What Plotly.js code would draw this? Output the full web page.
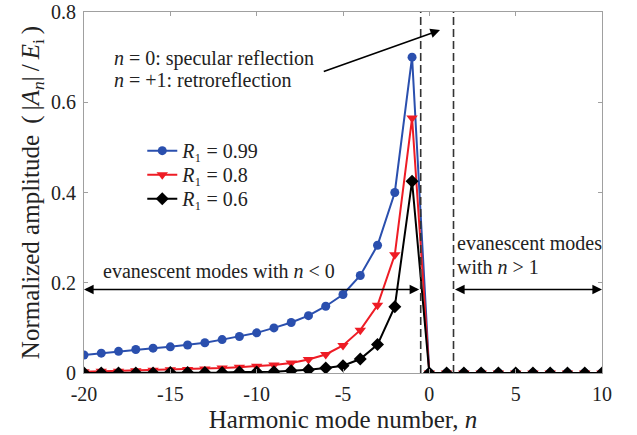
<!DOCTYPE html>
<html><head><meta charset="utf-8">
<script src="https://cdn.plot.ly/plotly-3.0.1.min.js"></script>
<style>html,body{margin:0;padding:0;background:#fff}#chart{width:637px;height:435px}</style>
</head><body><div id="chart"></div>
<script>
const modeNumbers = [-20,-19,-18,-17,-16,-15,-14,-13,-12,-11,-10,-9,-8,-7,-6,-5,-4,-3,-2,-1,0,1,2,3,4,5,6,7,8,9,10];
const ampR099 = [0.040,0.044,0.048,0.052,0.055,0.058,0.062,0.067,0.074,0.081,0.089,0.100,0.112,0.127,0.148,0.174,0.216,0.283,0.400,0.700,0,0,0,0,0,0,0,0,0,0,0];
const ampR08  = [0.003,0.004,0.004,0.005,0.006,0.007,0.008,0.009,0.011,0.013,0.015,0.018,0.022,0.030,0.041,0.061,0.095,0.150,0.262,0.565,0,0,0,0,0,0,0,0,0,0,0];
const ampR06  = [0.000,0.000,0.000,0.000,0.000,0.001,0.001,0.001,0.001,0.002,0.002,0.003,0.005,0.007,0.011,0.016,0.031,0.063,0.147,0.425,0,0,0,0,0,0,0,0,0,0,0];
const seriesNames = ['<i>R</i>\u2081 = 0.99','<i>R</i>\u2081 = 0.8','<i>R</i>\u2081 = 0.6'];
const xTicks = [-20,-15,-10,-5,0,5,10];
const yTicks = [0,0.2,0.4,0.6,0.8];
const dividers = [-0.5, 1.4];

const F = 'Liberation Serif, Times New Roman, serif';
const TXT = '#222';
const traces = [
  {x: modeNumbers, y: ampR099, name: seriesNames[0], mode: 'lines+markers', legend: 'legend',
   line: {color: '#2a4fae', width: 2}, marker: {symbol: 'circle', size: 9, color: '#2a4fae'}},
  {x: modeNumbers, y: ampR08, name: seriesNames[1], mode: 'lines+markers', legend: 'legend2',
   line: {color: '#ee1c25', width: 2}, marker: {symbol: 'triangle-down', size: 10, color: '#ee1c25'}},
  {x: modeNumbers, y: ampR06, name: seriesNames[2], mode: 'lines+markers', legend: 'legend3',
   line: {color: '#000000', width: 2}, marker: {symbol: 'diamond', size: 10, color: '#000000'}}
];

const shapes = dividers.map(d => ({type: 'line', xref: 'x', yref: 'paper', x0: d, x1: d, y0: 0, y1: 1,
  line: {color: '#333', width: 1.6, dash: '8px,4px'}}));

const arrowCommon = {showarrow: true, text: '', axref: 'x', ayref: 'y', xref: 'x', yref: 'y',
  arrowhead: 2, arrowsize: 1.2, arrowwidth: 1.6, arrowcolor: '#000'};

const annotations = [
  Object.assign({}, arrowCommon, {x: -20, y: 0.185, ax: -0.5, ay: 0.185, arrowside: 'end+start'}),
  Object.assign({}, arrowCommon, {x: 10, y: 0.185, ax: 1.4, ay: 0.185, arrowside: 'end+start'}),
  Object.assign({}, arrowCommon, {x: 0.62, y: 0.76, ax: -6.2, ay: 0.667}),
  {xref: 'x', yref: 'y', x: -18.4, y: 0.696, xanchor: 'left', yanchor: 'middle', showarrow: false,
   text: '<i>n</i> = 0: specular reflection', font: {family: F, size: 20, color: TXT}},
  {xref: 'x', yref: 'y', x: -18.4, y: 0.650, xanchor: 'left', yanchor: 'middle', showarrow: false,
   text: '<i>n</i> = +1: retroreflection', font: {family: F, size: 20, color: TXT}},
  {xref: 'x', yref: 'y', x: -12.2, y: 0.226, xanchor: 'center', yanchor: 'middle', showarrow: false,
   text: 'evanescent modes with <i>n</i> &lt; 0', font: {family: F, size: 20, color: TXT}},
  {xref: 'x', yref: 'y', x: 1.5, y: 0.288, xanchor: 'left', yanchor: 'middle', showarrow: false,
   text: 'evanescent modes', font: {family: F, size: 20, color: TXT}},
  {xref: 'x', yref: 'y', x: 1.5, y: 0.235, xanchor: 'left', yanchor: 'middle', showarrow: false,
   text: 'with <i>n</i> &gt; 1', font: {family: F, size: 20, color: TXT}}
];

const axisCommon = {showline: true, mirror: 'ticks', linecolor: '#a0a0a0', linewidth: 1,
  ticks: 'inside', ticklen: 4, tickcolor: '#a0a0a0', showgrid: false, zeroline: false,
  tickfont: {family: F, size: 20, color: TXT}, ticklabelstandoff: 3};

const legendCommon = {x: 0.1125, xanchor: 'left', yanchor: 'top', bgcolor: 'rgba(0,0,0,0)',
  font: {family: F, size: 20, color: TXT}};

const layout = {
  width: 637, height: 435,
  margin: {l: 84, r: 35, t: 12, b: 62},
  paper_bgcolor: '#fff', plot_bgcolor: '#fff',
  showlegend: true,
  legend: Object.assign({}, legendCommon, {y: 0.670}),
  legend2: Object.assign({}, legendCommon, {y: 0.6035}),
  legend3: Object.assign({}, legendCommon, {y: 0.537}),
  xaxis: Object.assign({}, axisCommon, {range: [-20, 10], tickvals: xTicks, ticktext: xTicks.map(String),
    title: {text: 'Harmonic mode number, <i>n</i>', font: {family: F, size: 25, color: TXT}, standoff: 6}}),
  yaxis: Object.assign({}, axisCommon, {range: [0, 0.8], tickvals: yTicks, ticktext: yTicks.map(v => v === 0 ? '0' : v.toFixed(1)),
    title: {text: 'Normalized amplitude \u2009(\u2009|<i>A</i><sub><i>n</i></sub>|\u2009/\u2009<i>E</i><sub>i</sub>\u2009)', font: {family: F, size: 25, color: TXT}, standoff: 4}}),
  shapes: shapes,
  annotations: annotations
};

Plotly.newPlot('chart', traces, layout, {displayModeBar: false, staticPlot: true});
</script></body></html>
